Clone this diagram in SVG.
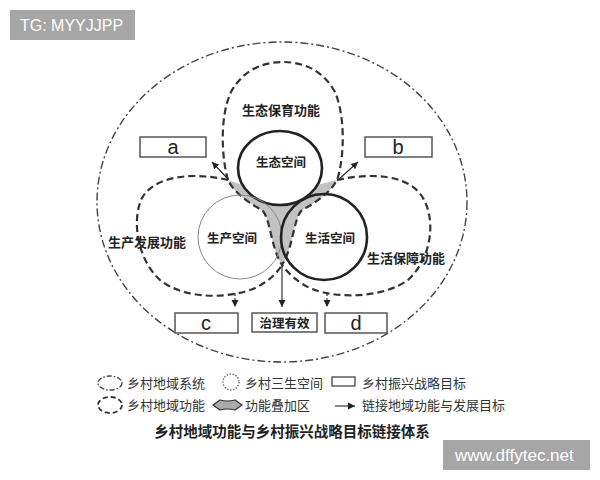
<svg xmlns="http://www.w3.org/2000/svg" width="600" height="480" viewBox="0 0 600 480">
<style>
.lbl{font-family:"Noto Sans CJK SC","Noto Sans",sans-serif;font-weight:bold;fill:#222;text-anchor:middle}
.leg{font-family:"Noto Sans CJK SC","Noto Sans",sans-serif;font-size:13px;fill:#333}
.let{font-family:"Liberation Sans",Arial,sans-serif;font-size:20px;fill:#222;text-anchor:middle}
.box{fill:#fff;stroke:#555;stroke-width:1.5}
.dash{fill:none;stroke:#333;stroke-width:2.2;stroke-dasharray:7 4}
.ddot{fill:none;stroke:#444;stroke-width:1.4;stroke-dasharray:8 3 2 3}
.arr{stroke:#222;stroke-width:1.1;fill:none;marker-end:url(#ah)}
.wm{fill:#a6a6a6}
.wmt{font-family:"Liberation Sans",Arial,sans-serif;fill:#fff}
</style>
<defs>
<marker id="ah" markerWidth="8" markerHeight="8" refX="7" refY="4" orient="auto" markerUnits="userSpaceOnUse">
<path d="M0,0.5 L7,4 L0,7.5 Z" fill="#222"/>
</marker>
</defs>
<rect width="600" height="480" fill="#fff"/>

<g id="system">
<ellipse class="ddot" cx="282" cy="202" rx="185" ry="160"/>
</g>

<g id="overlap">
<path d="M228,180 C236,196 252,204 263,211 C271,222 271,248 282,265 C293,248 293,222 301,211 C312,204 328,196 337,180 L317.3,185 A42 37 0 0 1 242.7,185 Z" fill="#c2c2c2"/>
</g>

<g id="eco-function">
<path class="dash" d="M228,180 C222,160 219,118 231,92 C243,70 263,62 283,62 C303,62 323,70 335,92 C346,118 344,160 337,180 C328,196 312,204 301,211 C293,222 293,248 282,265 C271,248 271,222 263,211 C252,204 236,196 228,180 Z"/>
<text class="lbl" x="281" y="115" font-size="13">生态保育功能</text>
</g>

<g id="prod-function">
<path class="dash" d="M228,180 C195,172 155,175 142,198 C132,218 136,258 160,280 C185,300 230,299 255,288 C268,282 277,273 282,265"/>
<text class="lbl" x="147" y="247" font-size="13">生产发展功能</text>
</g>

<g id="life-function">
<path class="dash" d="M337,180 C372,172 410,175 423,198 C436,220 432,258 408,280 C383,298 338,299 312,289 C298,283 288,273 282,265"/>
<text class="lbl" x="406" y="263" font-size="13">生活保障功能</text>
</g>

<g id="eco-space">
<ellipse cx="280" cy="168" rx="42" ry="37" fill="none" stroke="#222" stroke-width="2.6"/>
<text class="lbl" x="281" y="167" font-size="12.5">生态空间</text>
</g>

<g id="prod-space">
<circle cx="240" cy="237" r="42" fill="none" stroke="#888" stroke-width="1"/>
<text class="lbl" x="232" y="243" font-size="12.5">生产空间</text>
</g>

<g id="life-space">
<circle cx="324" cy="237" r="43" fill="none" stroke="#222" stroke-width="2.6"/>
<text class="lbl" x="330" y="243" font-size="12.5">生活空间</text>
</g>

<g id="goal-a"><rect class="box" x="140" y="137" width="66" height="20"/><text class="let" x="173" y="154">a</text></g>
<g id="goal-b"><rect class="box" x="365" y="137" width="67" height="20"/><text class="let" x="398" y="154">b</text></g>
<g id="goal-c"><rect class="box" x="175" y="313" width="63" height="20"/><text class="let" x="206" y="330">c</text></g>
<g id="goal-gov"><rect class="box" x="252" y="313" width="65" height="19"/><text class="lbl" x="284.5" y="327.5" font-size="12.5">治理有效</text></g>
<g id="goal-d"><rect class="box" x="325" y="313" width="62" height="20"/><text class="let" x="356" y="330">d</text></g>

<g id="connectors">
<line class="arr" x1="228" y1="179" x2="212" y2="162"/>
<line class="arr" x1="338" y1="180" x2="358" y2="162"/>
<line class="arr" x1="282" y1="266" x2="282" y2="307"/>
<line class="arr" x1="235" y1="293" x2="235" y2="307" stroke-dasharray="3 2"/>
<line class="arr" x1="327" y1="293" x2="327" y2="307" stroke-dasharray="3 2"/>
</g>

<g id="legend">
<ellipse cx="110" cy="383" rx="12" ry="7" fill="none" stroke="#444" stroke-width="1.4" stroke-dasharray="5 2 1.5 2"/>
<text class="leg" x="127" y="388">乡村地域系统</text>
<circle cx="231" cy="382" r="8" fill="none" stroke="#666" stroke-width="1.3" stroke-dasharray="1.5 1.5"/>
<text class="leg" x="245" y="388">乡村三生空间</text>
<rect x="332" y="377" width="23" height="9" fill="#fff" stroke="#444" stroke-width="1.3"/>
<text class="leg" x="362" y="388">乡村振兴战略目标</text>
<ellipse cx="110" cy="405" rx="12" ry="8" fill="none" stroke="#333" stroke-width="1.8" stroke-dasharray="5 3"/>
<text class="leg" x="127" y="410">乡村地域功能</text>
<path d="M213,405 L220,400 Q227,402 235,400 L242,405 L235,410 Q227,408 220,410 Z" fill="#aaa" stroke="#333" stroke-width="1.2"/>
<text class="leg" x="245" y="410">功能叠加区</text>
<line x1="335" y1="406" x2="355" y2="406" stroke="#222" stroke-width="1.1" marker-end="url(#ah)"/>
<text class="leg" x="362" y="410">链接地域功能与发展目标</text>
<text class="lbl" x="292" y="437" font-size="14.5">乡村地域功能与乡村振兴战略目标链接体系</text>
</g>

<g id="watermarks">
<rect class="wm" x="10" y="10" width="125" height="30"/>
<text class="wmt" x="20" y="31" font-size="16">TG: MYYJJPP</text>
<rect class="wm" x="443" y="440" width="147" height="30"/>
<text class="wmt" x="455" y="461" font-size="17">www.dffytec.net</text>
</g>
</svg>
